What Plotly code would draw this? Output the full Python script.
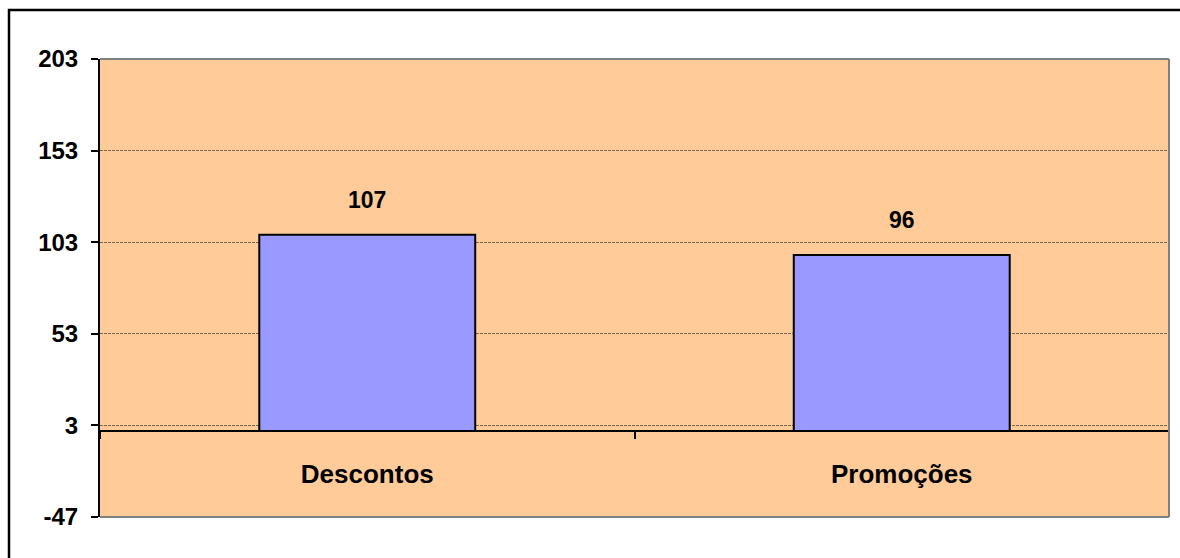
import plotly.graph_objects as go

# Chart data
categories = ["Descontos", "Promoções"]
values = [107, 96]
y_ticks = [-47, 3, 53, 103, 153, 203]

W, H = 1180, 558
L, R, T, B = 100, 11, 59, 41
pw = W - L - R
ph = H - T - B

FONT = "Liberation Sans, Arial, sans-serif"
zero_frac = (0 - y_ticks[0]) / (y_ticks[-1] - y_ticks[0])

fig = go.Figure(
    go.Bar(
        x=categories,
        y=values,
        width=0.404,
        marker=dict(color="#9999FF", line=dict(color="black", width=2)),
        hoverinfo="x+y",
    )
)

# value labels above each bar
for c, v in zip(categories, values):
    fig.add_annotation(
        x=c, y=v, text=str(v), showarrow=False,
        yanchor="bottom", yshift=20,
        font=dict(family=FONT, size=23, color="black", weight=700),
    )

# plot-area border (top, right, bottom) and outer chart frame
for x0, y0, x1, y1 in [(0, 1, 1, 1), (1, 0, 1, 1), (0, 0, 1, 0)]:
    fig.add_shape(type="line", xref="paper", yref="paper",
                  x0=x0, y0=y0, x1=x1, y1=y1,
                  line=dict(color="#808080", width=2), layer="above")
fig.add_shape(type="rect", xref="paper", yref="paper",
              x0=(9 - L) / pw, x1=(W + 20 - L) / pw,
              y0=-(B + 20) / ph, y1=(H - B - 10) / ph,
              line=dict(color="black", width=2.5), layer="above")

fig.update_layout(
    width=W, height=H,
    margin=dict(l=L, r=R, t=T, b=B),
    paper_bgcolor="white",
    plot_bgcolor="#FFCC99",
    showlegend=False,
    font=dict(family=FONT, color="black"),
    xaxis=dict(
        type="category",
        range=[-0.5, len(categories) - 0.5],
        anchor="free", position=zero_frac,
        showline=True, linecolor="black", linewidth=2,
        ticks="outside", tickson="boundaries", ticklen=7, tickwidth=2, tickcolor="black",
        tickfont=dict(family=FONT, size=26, color="black", weight=700),
        ticklabelstandoff=20,
        showgrid=False, zeroline=False,
    ),
    yaxis=dict(
        range=[y_ticks[0], y_ticks[-1]],
        tickvals=y_ticks, ticktext=[str(t) for t in y_ticks],
        showgrid=True, gridcolor="#7a6550", gridwidth=1, griddash="3px,1px",
        showline=True, linecolor="black", linewidth=2,
        ticks="outside", ticklen=7, tickwidth=2, tickcolor="black",
        tickfont=dict(family=FONT, size=24, color="black", weight=700),
        ticklabelstandoff=8,
        zeroline=False,
    ),
)

fig.write_html("out.html")
